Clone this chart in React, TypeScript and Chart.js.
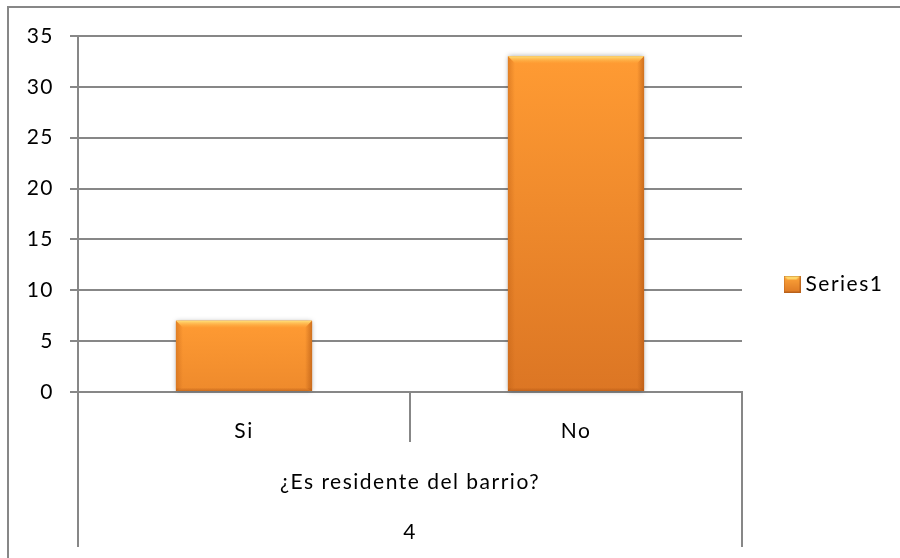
import React, { useEffect, useRef } from "react";
import { Chart, registerables } from "chart.js";

Chart.register(...registerables);

// ---- data ----
const categories: string[] = ["Si", "No"];
const seriesName = "Series1";
const values: number[] = [7, 33];
const groupLabel = "¿Es residente del barrio?";
const outerLabel = "4";
const yMin = 0;
const yMax = 35;
const yStep = 5;

// ---- styles ----
const FONT = "Lato, 'Open Sans', sans-serif";
const FONT_SIZE = 21;
const GRID = "#878787";
const LETTER_SPACING = "1.5px";
const LEGEND_WIDTH = 158;

function makeLegendSwatch(): HTMLCanvasElement {
  const c = document.createElement("canvas");
  c.width = 17;
  c.height = 17;
  const x = c.getContext("2d")!;
  const g = x.createLinearGradient(0, 0, 0, 17);
  g.addColorStop(0, "#FFA63C");
  g.addColorStop(1, "#DE7A24");
  x.fillStyle = g;
  x.fillRect(0, 0, 17, 17);
  x.fillStyle = "rgba(255,220,110,0.9)";
  x.beginPath();
  x.moveTo(0, 0);
  x.lineTo(17, 0);
  x.lineTo(13, 4);
  x.lineTo(4, 4);
  x.closePath();
  x.fill();
  x.strokeStyle = "rgba(160,80,20,0.6)";
  x.lineWidth = 1;
  x.strokeRect(0.5, 0.5, 16, 16);
  return c;
}

const letterSpacingPlugin = {
  id: "letterSpacing",
  beforeUpdate(chart: any) {
    (chart.ctx as any).letterSpacing = LETTER_SPACING;
  },
  beforeLayout(chart: any) {
    const lg = chart.legend;
    if (lg && !lg.__fixedWidth) {
      const orig = lg.fit.bind(lg);
      lg.fit = () => {
        orig();
        lg.width = LEGEND_WIDTH;
      };
      lg.__fixedWidth = true;
    }
  },
  beforeDraw(chart: any) {
    (chart.ctx as any).letterSpacing = LETTER_SPACING;
  },
};

const framePlugin = {
  id: "frameLines",
  afterDraw(chart: any) {
    const { ctx, chartArea } = chart;
    const xs = chart.scales.x;
    ctx.save();
    ctx.strokeStyle = GRID;
    ctx.lineWidth = 2;
    ctx.beginPath();
    ctx.moveTo(chartArea.left, chartArea.bottom);
    ctx.lineTo(chartArea.left, xs.bottom - 11);
    ctx.moveTo(chartArea.right, chartArea.bottom);
    ctx.lineTo(chartArea.right, xs.bottom - 11);
    ctx.stroke();
    ctx.restore();
  },
};

const bevelPlugin = {
  id: "bevelBars",
  afterDatasetsDraw(chart: any) {
    const ctx = chart.ctx as CanvasRenderingContext2D;
    const meta = chart.getDatasetMeta(0);
    meta.data.forEach((el: any) => {
      const p = el.getProps(["x", "y", "base", "width"], true);
      const l = p.x - p.width / 2;
      const r = p.x + p.width / 2;
      const t = Math.min(p.y, p.base);
      const b = Math.max(p.y, p.base);
      const w = r - l;
      const h = b - t;
      const bv = Math.min(7, h / 4);
      ctx.save();
      ctx.shadowColor = "rgba(0,0,0,0.35)";
      ctx.shadowBlur = 5;
      const g = ctx.createLinearGradient(0, t, 0, b);
      g.addColorStop(0, "#FF9B33");
      g.addColorStop(1, h > 150 ? "#DC7624" : "#EE8A2C");
      ctx.fillStyle = g;
      ctx.fillRect(l, t, w, h);
      ctx.shadowColor = "transparent";
      ctx.shadowBlur = 0;
      // top bevel
      const tg = ctx.createLinearGradient(0, t, 0, t + bv);
      tg.addColorStop(0, "#FFE07A");
      tg.addColorStop(1, "rgba(255,165,55,0.2)");
      ctx.fillStyle = tg;
      ctx.beginPath();
      ctx.moveTo(l, t);
      ctx.lineTo(r, t);
      ctx.lineTo(r - bv, t + bv);
      ctx.lineTo(l + bv, t + bv);
      ctx.closePath();
      ctx.fill();
      // left bevel
      const lg = ctx.createLinearGradient(l, 0, l + bv, 0);
      lg.addColorStop(0, "rgba(190,95,20,0.45)");
      lg.addColorStop(1, "rgba(190,95,20,0)");
      ctx.fillStyle = lg;
      ctx.beginPath();
      ctx.moveTo(l, t);
      ctx.lineTo(l + bv, t + bv);
      ctx.lineTo(l + bv, b - bv / 2);
      ctx.lineTo(l, b);
      ctx.closePath();
      ctx.fill();
      // right bevel
      const rg = ctx.createLinearGradient(r, 0, r - bv, 0);
      rg.addColorStop(0, "rgba(170,80,15,0.55)");
      rg.addColorStop(1, "rgba(170,80,15,0)");
      ctx.fillStyle = rg;
      ctx.beginPath();
      ctx.moveTo(r, t);
      ctx.lineTo(r - bv, t + bv);
      ctx.lineTo(r - bv, b - bv / 2);
      ctx.lineTo(r, b);
      ctx.closePath();
      ctx.fill();
      // bottom bevel
      const bg = ctx.createLinearGradient(0, b, 0, b - bv / 2);
      bg.addColorStop(0, "rgba(170,80,15,0.5)");
      bg.addColorStop(1, "rgba(170,80,15,0)");
      ctx.fillStyle = bg;
      ctx.fillRect(l, b - bv / 2, w, bv / 2);
      ctx.restore();
    });
  },
};

export default function App() {
  const ref = useRef<HTMLCanvasElement | null>(null);

  useEffect(() => {
    if (!ref.current) return;
    const swatch = makeLegendSwatch();
    const font = { family: FONT, size: FONT_SIZE };
    const chart = new Chart(ref.current, {
      type: "bar",
      data: {
        labels: categories,
        datasets: [
          {
            label: seriesName,
            data: values,
            backgroundColor: "#F28C2C",
            borderWidth: 0,
            barPercentage: 0.41,
            categoryPercentage: 1,
          },
        ],
      },
      options: {
        animation: false,
        responsive: false,
        devicePixelRatio: 1,
        layout: { padding: { top: 10, left: 0, right: 0, bottom: 0 } },
        plugins: {
          tooltip: { enabled: false },
          title: {
            display: true,
            fullSize: false,
            text: "",
            padding: { top: 16, bottom: 0 },
            font: { size: 10, lineHeight: 1 },
          },
          legend: {
            position: "right",
            labels: {
              usePointStyle: true,
              pointStyle: swatch as any,
              boxWidth: 6,
              boxHeight: 17,
              padding: 47,
              font,
              color: "#000",
              generateLabels: () => [
                {
                  text: seriesName,
                  fillStyle: "#F28C2C",
                  strokeStyle: "#C8661A",
                  lineWidth: 0,
                  pointStyle: swatch as any,
                  hidden: false,
                  datasetIndex: 0,
                } as any,
              ],
            },
          },
        },
        scales: {
          x: {
            type: "category",
            offset: true,
            grid: {
              offset: true,
              drawOnChartArea: false,
              color: GRID,
              lineWidth: 2,
              tickLength: 50,
            },
            border: { color: GRID, width: 2 },
            ticks: {
              padding: -23,
              font,
              color: "#000",
              maxRotation: 0,
              autoSkip: false,
            },
            title: {
              display: true,
              text: [groupLabel, outerLabel],
              font: { family: FONT, size: FONT_SIZE, lineHeight: 50 / FONT_SIZE },
              padding: { top: 0, bottom: 1 },
              color: "#000",
            },
            afterFit: (s: any) => {
              s.height = 166;
            },
          },
          y: {
            min: yMin,
            max: yMax,
            ticks: { stepSize: yStep, padding: 16, font, color: "#000" },
            grid: { color: GRID, lineWidth: 2, tickLength: 8 },
            border: { color: GRID, width: 2 },
            afterFit: (s: any) => {
              s.width = 78;
            },
          },
        },
      },
      plugins: [letterSpacingPlugin, bevelPlugin, framePlugin],
    });
    return () => chart.destroy();
  }, []);

  return (
    <div
      style={{
        position: "fixed",
        left: 0,
        top: 0,
        width: 900,
        height: 558,
        overflow: "hidden",
        background: "#fff",
      }}
    >
      <div
        style={{
          position: "absolute",
          left: 7,
          top: 6,
          width: 960,
          height: 620,
          borderLeft: `2px solid ${GRID}`,
          borderTop: `2px solid ${GRID}`,
        }}
      />
      <canvas
        ref={ref}
        width={900}
        height={558}
        style={{ position: "absolute", left: 0, top: 0, width: 900, height: 558 }}
      />
    </div>
  );
}
